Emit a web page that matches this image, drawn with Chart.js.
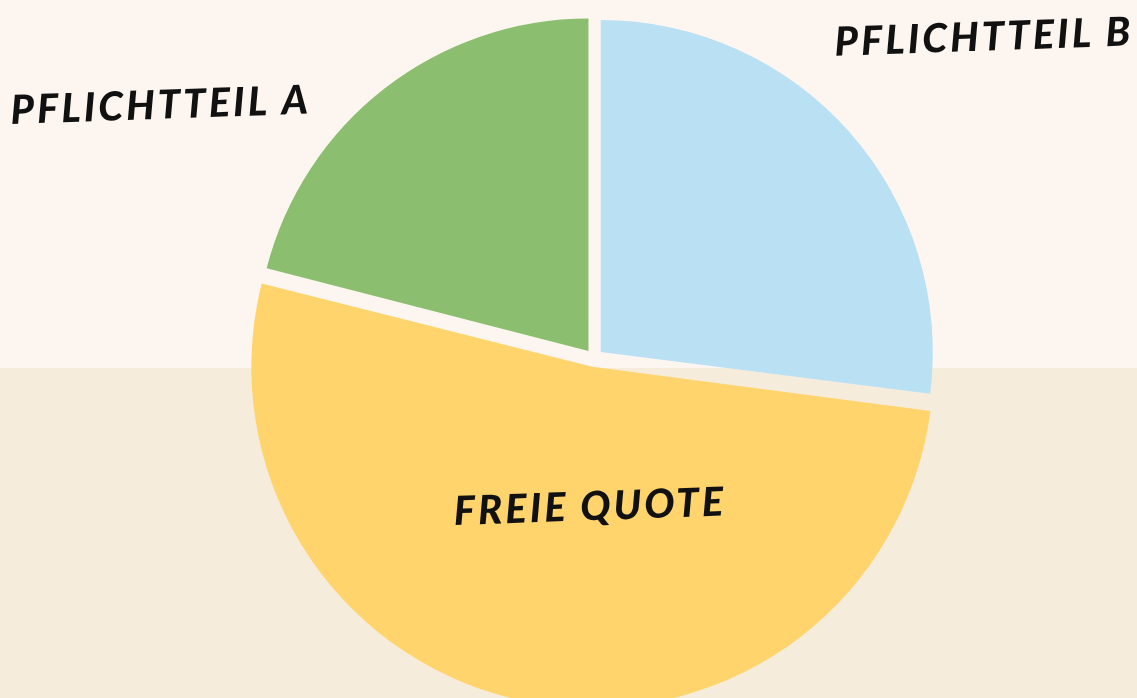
<!DOCTYPE html>
<html>
<head>
<meta charset="utf-8">
<script src="https://cdn.jsdelivr.net/npm/chart.js@4.4.1/dist/chart.umd.min.js"></script>
<style>
  html, body { margin: 0; padding: 0; }
  body {
    width: 1137px; height: 698px; overflow: hidden;
    background: linear-gradient(to bottom, #fdf6f0 0, #fdf6f0 368px, #f6ecdc 368px, #f6ecdc 100%);
  }
  #wrap { position: relative; width: 1137px; height: 698px; }
</style>
</head>
<body>
<div id="wrap"><canvas id="pie"></canvas></div>
<script>
// Anteile (in %), im Uhrzeigersinn ab 12 Uhr
const categories = ['Pflichtteil B', 'Freie Quote', 'Pflichtteil A'];
const shares = [27, 52, 21];
const sliceColors = ['#b9e0f3', '#ffd46c', '#8cbe6f'];

// Wo die Beschriftung sitzt: Abstand zum Mittelpunkt (in Radien) und Winkel (Grad, ab 12 Uhr)
const labelPlacement = [
  { dist: 1.52, angle: 50.6 },
  { dist: 0.45, angle: 181.5 },
  { dist: 1.51, angle: 300.2 }
];

const sliceLabels = {
  id: 'sliceLabels',
  afterDatasetsDraw(chart) {
    const ctx = chart.ctx;
    const meta = chart.getDatasetMeta(0);
    ctx.save();
    ctx.fillStyle = '#111';
    ctx.font = 'italic 900 40px Lato, "DejaVu Sans", sans-serif';
    ctx.letterSpacing = '3px';
    ctx.textAlign = 'center';
    ctx.textBaseline = 'middle';
    meta.data.forEach((arc, i) => {
      const p = labelPlacement[i];
      const a = (p.angle - 90) * Math.PI / 180;
      const r = arc.outerRadius * p.dist;
      const x = arc.x + Math.cos(a) * r;
      const y = arc.y + Math.sin(a) * r;
      ctx.save();
      ctx.translate(x, y);
      ctx.rotate(-2 * Math.PI / 180);
      ctx.fillText(categories[i].toUpperCase(), 0, 0);
      ctx.restore();
    });
    ctx.restore();
  }
};

new Chart(document.getElementById('pie'), {
  type: 'pie',
  data: {
    labels: categories,
    datasets: [{
      data: shares,
      backgroundColor: sliceColors,
      borderWidth: 0,
      offset: 36
    }]
  },
  options: {
    responsive: true,
    maintainAspectRatio: false,
    animation: false,
    radius: 332,
    layout: { padding: { left: 51, top: 18, right: 0, bottom: 0 } },
    plugins: {
      legend: { display: false },
      tooltip: { enabled: false }
    }
  },
  plugins: [sliceLabels]
});
</script>
</body>
</html>
